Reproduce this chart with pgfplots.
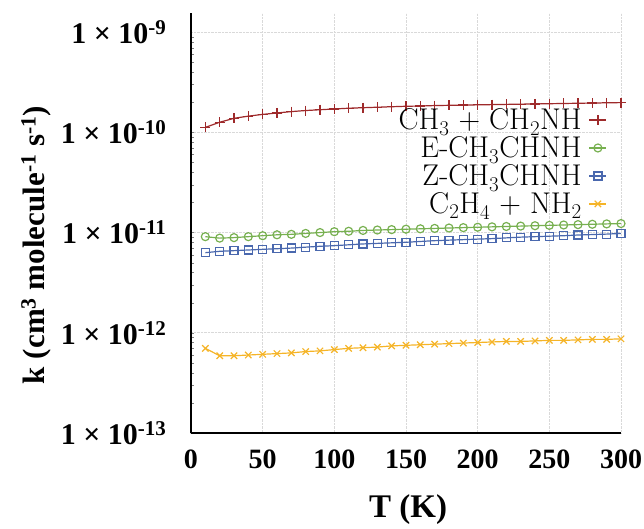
\documentclass[border=0pt]{standalone}
\usepackage{fontspec}
\usepackage{pgfplots}
\pgfplotsset{compat=1.18}
\newfontfamily\tnr{Liberation Serif}

\definecolor{kred}{HTML}{9E2A2B}
\definecolor{kgreen}{HTML}{77B050}
\definecolor{kblue}{HTML}{4A68AE}
\definecolor{kyellow}{HTML}{F5B428}

\begin{document}
\begin{tikzpicture}
\useasboundingbox (-191pt,-95pt) rectangle (453pt,433pt);
\begin{axis}[
  at={(0,0)}, anchor=south west,
  scale only axis, width=430pt, height=420pt,
  xmin=0, xmax=300,
  ymode=log, ymin=1e-13, ymax=1.55e-9,
  axis x line*=bottom, axis y line*=left,
  axis line style={-, line width=2.5pt, black},
  major tick length=0pt,
  grid=major,
  grid style={densely dotted, black!15, line width=1pt},
  xtick={0,50,...,300},
  ytick={1e-13,1e-12,1e-11,1e-10,1e-9},
  yticklabels={1 × 10\textsuperscript{-13},1 × 10\textsuperscript{-12},1 × 10\textsuperscript{-11},1 × 10\textsuperscript{-10},1 × 10\textsuperscript{-9}},
  /pgf/number format/assume math mode=true,
  yticklabel style={font=\tnr\bfseries\fontsize{30}{30}\selectfont, xshift=-21pt},
  xticklabel style={font=\tnr\bfseries\fontsize{28}{28}\selectfont, yshift=-13pt},
  xlabel={T (K)},
  ylabel={k (cm\textsuperscript{3} molecule\textsuperscript{-1} s\textsuperscript{-1})},
  xlabel style={font=\tnr\bfseries\fontsize{33}{33}\selectfont, at={(axis description cs:0.505,-0.183)}, anchor=center},
  ylabel style={font=\tnr\bfseries\fontsize{31}{31}\selectfont, at={(axis description cs:-0.36,0.448)}, anchor=center},
  legend plot pos=right,
  legend cell align=right,
  legend style={draw=none, fill=none, at={(axis description cs:0.975,0.782)}, anchor=north east,
    font=\fontsize{30}{30}\selectfont, row sep=1.5pt,
    /tikz/every odd column/.append style={column sep=5pt}},
  every axis plot/.append style={line width=1.2pt},
]
% CH3 + CH2NH
\addplot[kred, mark=+, mark size=5pt] table {
T k
10 1.12e-10
20 1.26e-10
30 1.38e-10
40 1.45e-10
50 1.51e-10
60 1.56e-10
70 1.61e-10
80 1.65e-10
90 1.68e-10
100 1.71e-10
110 1.74e-10
120 1.76e-10
130 1.78e-10
140 1.80e-10
150 1.82e-10
160 1.83e-10
170 1.85e-10
180 1.86e-10
190 1.87e-10
200 1.88e-10
210 1.89e-10
220 1.90e-10
230 1.91e-10
240 1.92e-10
250 1.93e-10
260 1.94e-10
270 1.95e-10
280 1.96e-10
290 1.97e-10
300 1.98e-10
};
\addlegendentry{CH\textsubscript{3} + CH\textsubscript{2}NH}
% E-CH3CHNH
\addplot[kgreen, mark=o, mark size=4pt] table {
T k
10 9.1e-12
20 8.8e-12
30 8.9e-12
40 9.1e-12
50 9.3e-12
60 9.5e-12
70 9.6e-12
80 9.8e-12
90 1.00e-11
100 1.02e-11
110 1.03e-11
120 1.05e-11
130 1.06e-11
140 1.07e-11
150 1.08e-11
160 1.09e-11
170 1.10e-11
180 1.11e-11
190 1.12e-11
200 1.13e-11
210 1.14e-11
220 1.15e-11
230 1.16e-11
240 1.17e-11
250 1.18e-11
260 1.19e-11
270 1.20e-11
280 1.21e-11
290 1.22e-11
300 1.23e-11
};
\addlegendentry{E-CH\textsubscript{3}CHNH}
% Z-CH3CHNH
\addplot[kblue, mark=square, mark size=4pt] table {
T k
10 6.3e-12
20 6.5e-12
30 6.6e-12
40 6.7e-12
50 6.8e-12
60 6.9e-12
70 7.0e-12
80 7.15e-12
90 7.3e-12
100 7.4e-12
110 7.55e-12
120 7.7e-12
130 7.8e-12
140 7.9e-12
150 8.0e-12
160 8.15e-12
170 8.3e-12
180 8.4e-12
190 8.5e-12
200 8.6e-12
210 8.7e-12
220 8.85e-12
230 9.0e-12
240 9.1e-12
250 9.2e-12
260 9.3e-12
270 9.45e-12
280 9.55e-12
290 9.65e-12
300 9.8e-12
};
\addlegendentry{Z-CH\textsubscript{3}CHNH}
% C2H4 + NH2
\addplot[kyellow, mark=x, mark size=4.5pt] table {
T k
10 7.0e-13
20 5.9e-13
30 5.9e-13
40 6.0e-13
50 6.1e-13
60 6.2e-13
70 6.3e-13
80 6.5e-13
90 6.6e-13
100 6.8e-13
110 7.0e-13
120 7.1e-13
130 7.2e-13
140 7.4e-13
150 7.5e-13
160 7.6e-13
170 7.7e-13
180 7.8e-13
190 7.9e-13
200 8.0e-13
210 8.1e-13
220 8.2e-13
230 8.2e-13
240 8.3e-13
250 8.4e-13
260 8.4e-13
270 8.5e-13
280 8.6e-13
290 8.6e-13
300 8.7e-13
};
\addlegendentry{C\textsubscript{2}H\textsubscript{4} + NH\textsubscript{2}}
\end{axis}
\end{tikzpicture}
\end{document}
